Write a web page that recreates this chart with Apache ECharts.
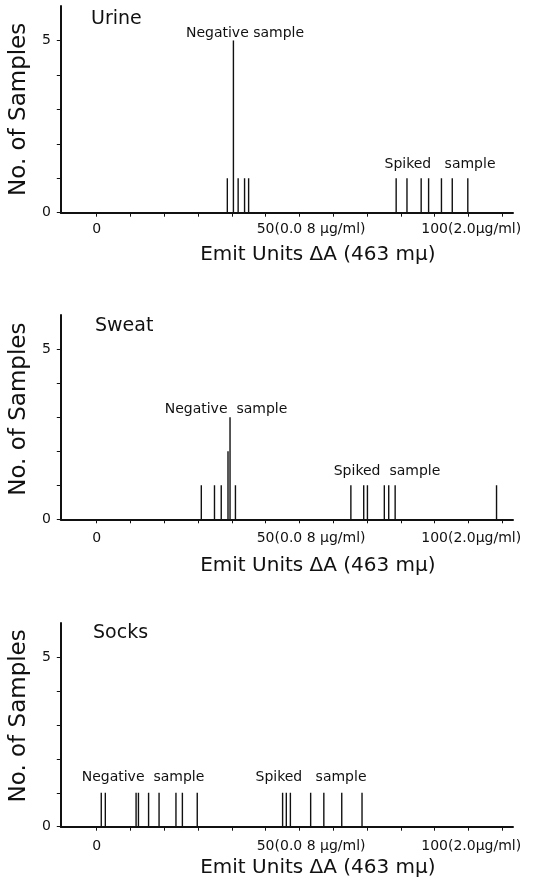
<!DOCTYPE html>
<html>
<head>
<meta charset="utf-8">
<script src="https://cdn.jsdelivr.net/npm/echarts@6/dist/echarts.min.js"></script>
<style>
html,body{margin:0;padding:0;background:#fff;}
#c{width:535px;height:880px;}
</style>
</head>
<body>
<div id="c"></div>
<script>
// ---------- data ----------
const panelNames = ['Urine', 'Sweat', 'Socks'];
const xTickValues = [0, 10, 20, 30, 40, 50, 60, 70, 80, 90, 100, 110, 120];
const xLabelValues = [0, 50, 100];
const xLabelNumbers = ['0', '50', '100'];
const xLabelNotes = ['', '(0.0 8 μg/ml)', '(2.0μg/ml)'];
const yTickValues = [0, 1, 2, 3, 4, 5];
const yLabelValues = [0, 5];
const xTitle = 'Emit Units ΔA (463 mμ)';
const yTitle = 'No. of Samples';

const urineNegX = [38.9, 40.7, 42.1, 44.0, 45.2];
const urineNegN = [1, 5, 1, 1, 1];
const urineSpkX = [88.4, 91.6, 95.8, 98.0, 101.8, 105.0, 109.6];
const urineSpkN = [1, 1, 1, 1, 1, 1, 1];

const sweatNegX = [31.2, 35.1, 37.1, 39.1, 39.7, 41.3];
const sweatNegN = [1, 1, 1, 2, 3, 1];
const sweatSpkX = [75.0, 78.8, 79.9, 84.9, 86.2, 88.1, 118.1];
const sweatSpkN = [1, 1, 1, 1, 1, 1, 1];

const socksNegX = [1.6, 2.8, 11.9, 12.6, 15.6, 18.7, 23.7, 25.6, 30.0];
const socksNegN = [1, 1, 1, 1, 1, 1, 1, 1, 1];
const socksSpkX = [54.8, 55.9, 57.1, 63.1, 67.0, 72.3, 78.3];
const socksSpkN = [1, 1, 1, 1, 1, 1, 1];

const negLabels = ['Negative sample', 'Negative  sample', 'Negative  sample'];
const spkLabels = ['Spiked   sample', 'Spiked  sample', 'Spiked   sample'];

// ---------- layout / style ----------
const FONT = '"DejaVu Sans", sans-serif';
const INK = '#111';
const layout = [
  { top: 6,   height: 206.7, labelMargin: 10, nameGap: 32, yPad: 0 },
  { top: 315, height: 204.3, labelMargin: 12, nameGap: 36, yPad: 16 },
  { top: 623, height: 203.7, labelMargin: 13, nameGap: 31, yPad: 18 }
];
const gridLeft = 59.5, gridWidth = 453.5;
const xMin = -10.6, xMax = 123.2;
const titlePos = [{ x: 91, y: 19 }, { x: 95, y: 326 }, { x: 93, y: 633 }];
const negPos = [{ x: 245, y: 33 }, { x: 226, y: 409 }, { x: 143, y: 777 }];
const spkPos = [{ x: 440, y: 164 }, { x: 387, y: 471 }, { x: 311, y: 777 }];

const series = [
  [urineNegX, urineNegN, urineSpkX, urineSpkN],
  [sweatNegX, sweatNegN, sweatSpkX, sweatSpkN],
  [socksNegX, socksNegN, socksSpkX, socksSpkN]
];

const ctx = document.createElement('canvas').getContext('2d');
ctx.font = '14px ' + FONT;
function noteWidth(s) { return ctx.measureText(s).width; }

function zip(xs, ns) { return xs.map((x, i) => [x, ns[i]]); }

const grids = [], xAxes = [], yAxes = [], allSeries = [], graphics = [];
layout.forEach((L, p) => {
  grids.push({ left: gridLeft, width: gridWidth, top: L.top, height: L.height, containLabel: false });
  const rich = { n: { fontFamily: FONT, fontSize: 14, color: INK }, note: { fontFamily: FONT, fontSize: 14, color: INK } };
  xLabelNotes.forEach((s, i) => { if (s) rich['pad' + i] = { width: noteWidth(s), fontSize: 14 }; });
  xAxes.push({
    type: 'value', gridIndex: p, min: xMin, max: xMax,
    name: xTitle, nameLocation: 'middle', nameGap: L.nameGap,
    nameTextStyle: { fontFamily: FONT, fontSize: 20, color: INK, padding: [0, 0, 0, 62] },
    axisLine: { show: true, onZero: false, lineStyle: { color: INK, width: 2 } },
    axisTick: { show: true, customValues: xTickValues, length: 4, inside: false, lineStyle: { color: INK, width: 1 } },
    axisLabel: {
      show: true, customValues: xLabelValues, margin: L.labelMargin,
      formatter: function (v) {
        const i = xLabelValues.indexOf(v);
        if (i < 0) return '';
        if (!xLabelNotes[i]) return '{n|' + xLabelNumbers[i] + '}';
        return '{pad' + i + '| }{n|' + xLabelNumbers[i] + '}{note|' + xLabelNotes[i] + '}';
      },
      rich: rich
    },
    splitLine: { show: false }
  });
  yAxes.push({
    type: 'value', gridIndex: p, min: 0, max: 6,
    name: yTitle, nameLocation: 'middle', nameGap: 26, nameRotate: 90,
    nameTextStyle: { fontFamily: FONT, fontSize: 23, color: INK, padding: [0, 0, 0, L.yPad] },
    axisLine: { show: true, onZero: false, lineStyle: { color: INK, width: 2 } },
    axisTick: { show: true, customValues: yTickValues, length: 4, lineStyle: { color: INK, width: 1 } },
    axisLabel: { show: true, customValues: yLabelValues, margin: 10, fontFamily: FONT, fontSize: 14, color: INK },
    splitLine: { show: false }
  });
  const d = series[p];
  [[d[0], d[1]], [d[2], d[3]]].forEach(pair => {
    allSeries.push({
      type: 'bar', xAxisIndex: p, yAxisIndex: p, barWidth: 1.4,
      data: zip(pair[0], pair[1]),
      itemStyle: { color: INK }, silent: true
    });
  });
  graphics.push({
    type: 'text', x: titlePos[p].x, y: titlePos[p].y,
    style: { text: panelNames[p], font: '19px ' + FONT, fill: INK, textAlign: 'left', textVerticalAlign: 'middle', align: 'left', verticalAlign: 'middle' }
  });
  graphics.push({
    type: 'text', x: negPos[p].x, y: negPos[p].y,
    style: { text: negLabels[p], font: '14px ' + FONT, fill: INK, textAlign: 'center', textVerticalAlign: 'middle', align: 'center', verticalAlign: 'middle' }
  });
  graphics.push({
    type: 'text', x: spkPos[p].x, y: spkPos[p].y,
    style: { text: spkLabels[p], font: '14px ' + FONT, fill: INK, textAlign: 'center', textVerticalAlign: 'middle', align: 'center', verticalAlign: 'middle' }
  });
});

const chart = echarts.init(document.getElementById('c'), null, { renderer: 'canvas' });
chart.setOption({
  backgroundColor: '#fff',
  animation: false,
  grid: grids,
  xAxis: xAxes,
  yAxis: yAxes,
  series: allSeries,
  graphic: graphics
});
</script>
</body>
</html>
